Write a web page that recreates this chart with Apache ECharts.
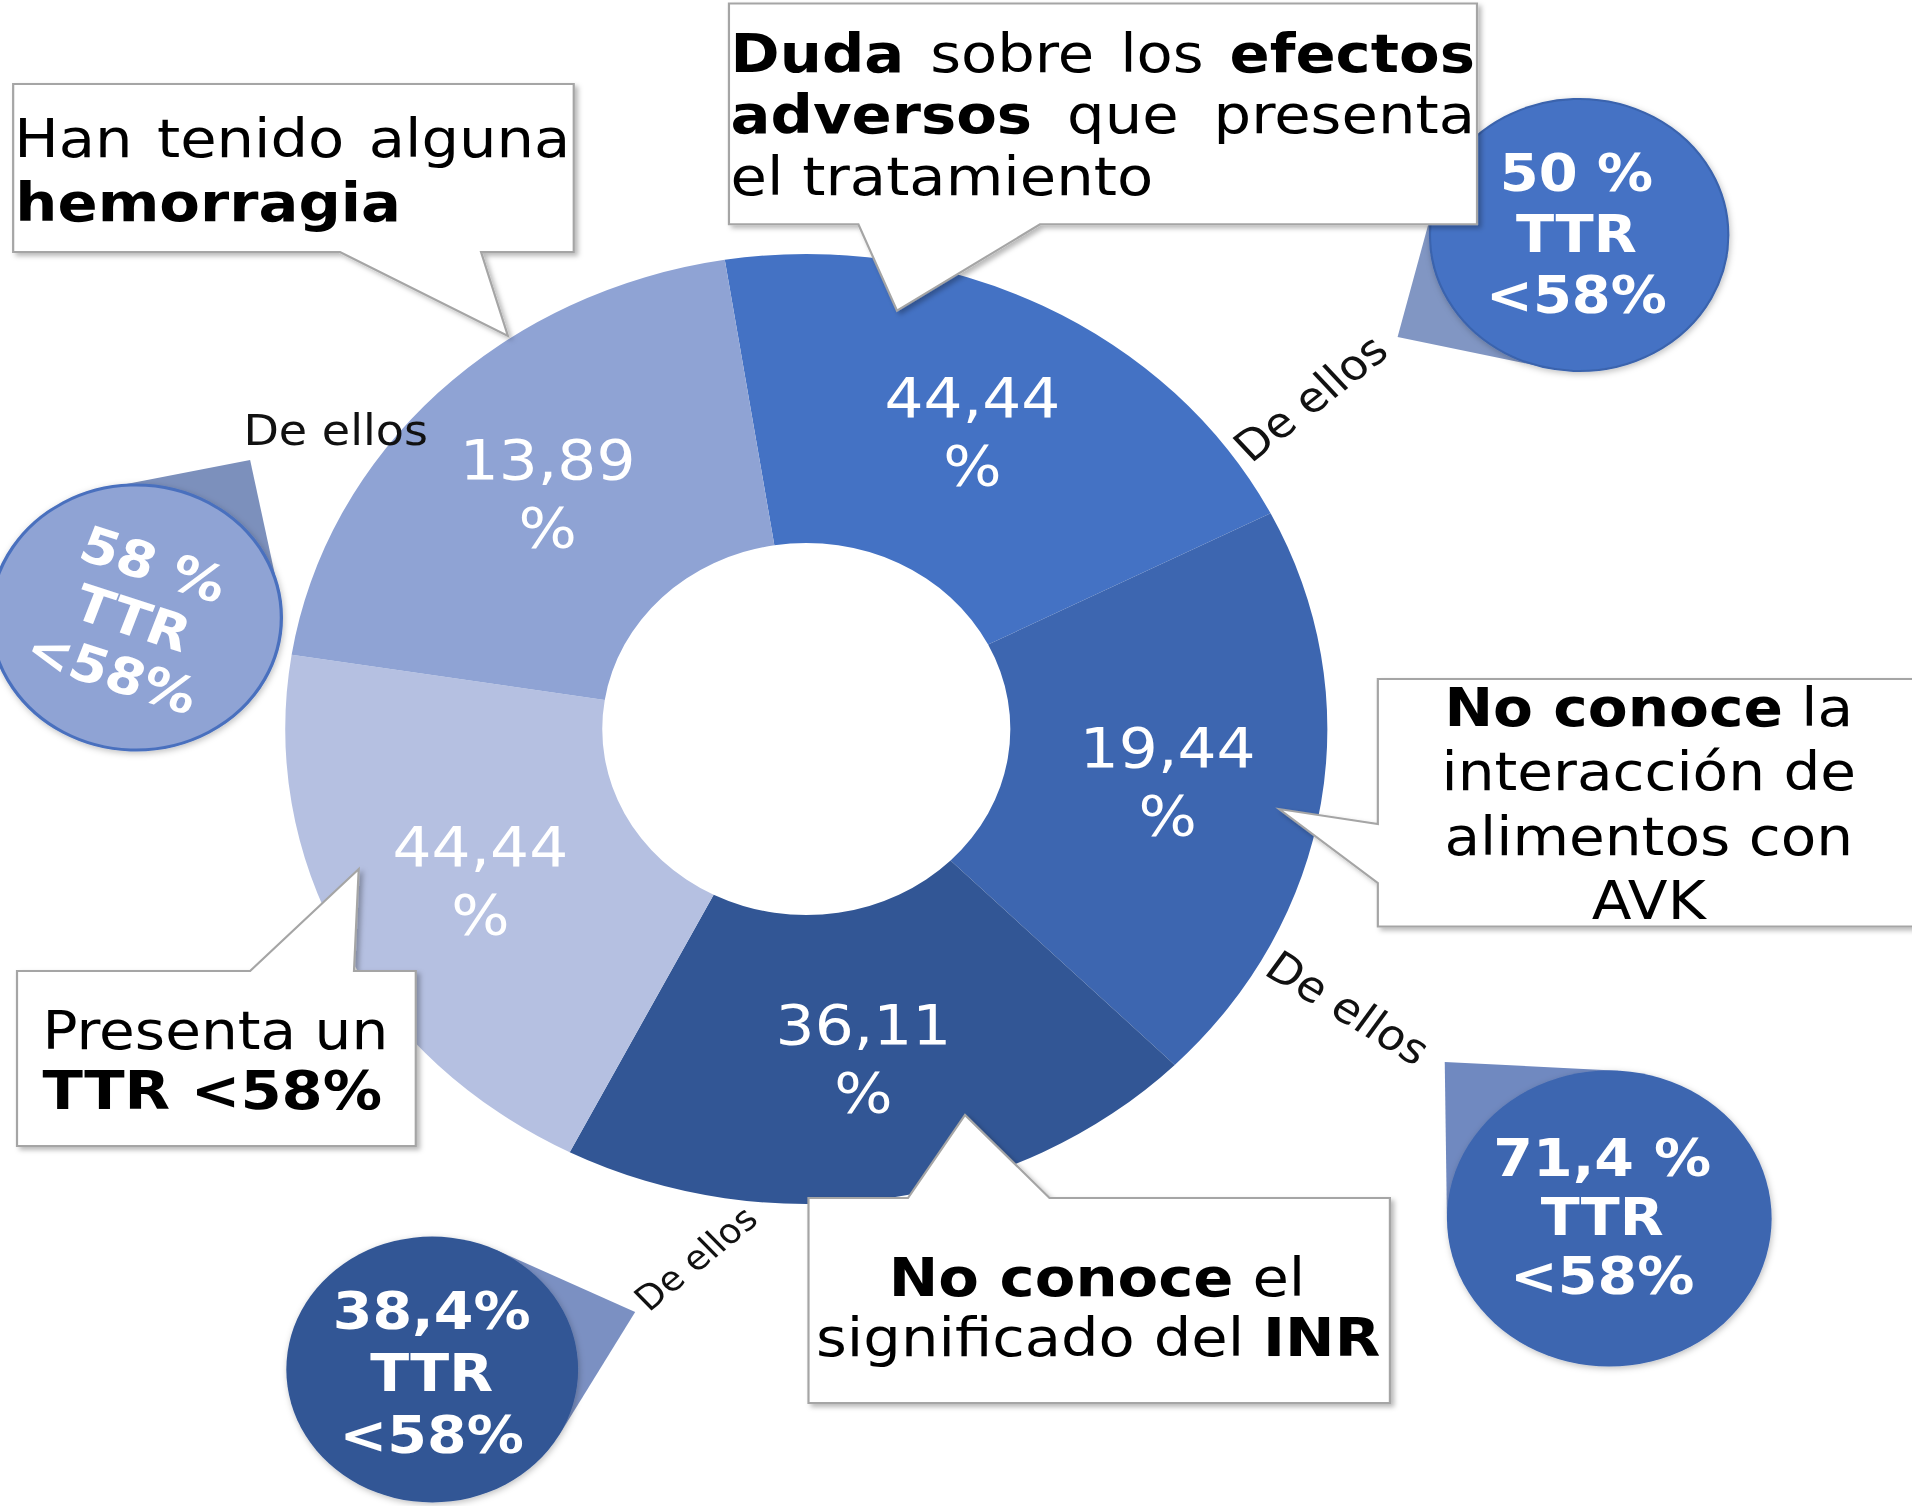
<!DOCTYPE html>
<html><head><meta charset="utf-8">
<script src="https://cdn.jsdelivr.net/npm/echarts@6/dist/echarts.min.js"></script>
<style>
html,body{margin:0;padding:0;background:#fff;overflow:hidden;}
#chart{width:1743px;height:1506px;transform:scaleX(1.097);transform-origin:0 0;}
</style></head><body><div id="chart"></div>
<script>
// ---- data ----
const categories = [
  'Duda sobre los efectos adversos que presenta el tratamiento',
  'No conoce la interacción de alimentos con AVK',
  'No conoce el significado del INR',
  'Presenta un TTR <58%',
  'Han tenido alguna hemorragia'
];
const percentages = [44.44, 19.44, 36.11, 44.44, 13.89];
const sliceWeights = [1, 1, 1, 1, 1];           // slices drawn equal in the original
const ttrShares = ['50 %', '71,4 %', '38,4%', '58 %'];  // "De ellos" sub-groups
const ttrLines = ['TTR', '<58%'];
const deEllos = 'De ellos';

// ---- styles ----
const sliceColors = ['#4472C4', '#3D66B0', '#325695', '#B5C0E1', '#8FA3D4'];
const FONT = '"DejaVu Sans", Verdana, sans-serif';

const cv = document.createElement('canvas').getContext('2d');
function tw(t, size, bold) { cv.font = (bold ? 'bold ' : '') + size + 'px "DejaVu Sans"'; return cv.measureText(t).width; }
function txt(x, y, text, size, bold, align, extra) {
  return Object.assign({ type: 'text', x: x, y: y, z: 40, silent: true,
    style: Object.assign({ text: text, fontSize: size, fontFamily: FONT, fontWeight: bold ? 'bold' : 'normal',
      fill: '#000', align: align || 'left', verticalAlign: 'middle' }, extra || {}) }, {});
}
function justified(words, x0, x1, y, size) {
  const ws = words.map(w => tw(w[0], size, w[1]));
  const total = ws.reduce((a, b) => a + b, 0);
  const gap = (x1 - x0 - total) / (words.length - 1);
  let x = x0; const out = [];
  words.forEach((w, i) => { out.push(txt(x, y, w[0], size, w[1])); x += ws[i] + gap; });
  return out;
}
function richCenter(x, y, text, size) {
  return txt(x, y, text, size, false, 'center', { rich: { b: { fontWeight: 'bold', fontSize: size, fontFamily: FONT, fill: '#000' } } });
}
function callout(points) {
  return { type: 'polygon', z: 30, silent: true, shape: { points: points },
    style: { fill: '#fff', stroke: '#A5A5A5', lineWidth: 2, shadowBlur: 5, shadowOffsetX: 3, shadowOffsetY: 3, shadowColor: 'rgba(0,0,0,0.28)' } };
}
function bubble(cx, cy, r, fill, tip, tailColor, stroke, strokeW) {
  const dx = tip[0] - cx, dy = tip[1] - cy, d = Math.hypot(dx, dy);
  const a = Math.atan2(dy, dx), b = Math.acos(r / d);
  const t1 = [cx + r * Math.cos(a + b), cy + r * Math.sin(a + b)];
  const t2 = [cx + r * Math.cos(a - b), cy + r * Math.sin(a - b)];
  return [
    { type: 'polygon', z: 20, silent: true, shape: { points: [tip, t1, [cx, cy], t2] }, style: { fill: tailColor } },
    { type: 'circle', z: 21, silent: true, shape: { cx: cx, cy: cy, r: r },
      style: { fill: fill, stroke: stroke || null, lineWidth: strokeW || 0, shadowBlur: 6, shadowColor: 'rgba(0,0,0,0.25)', shadowOffsetX: 1, shadowOffsetY: 2 } }
  ];
}
function bubbleText(x, y, first, size, lh, rot) {
  const t = txt(x, y, [first].concat(ttrLines).join('\n'), size, true, 'center', { fill: '#fff', lineHeight: lh });
  t.z = 22;
  if (rot) t.rotation = rot;
  return t;
}
function deEllosText(x, y, size, rot) {
  const t = txt(x, y, deEllos, size, false, 'center', { fill: '#111' });
  t.rotation = rot; return t;
}

const elements = [];
// tails, bubbles
elements.push(...bubble(1439.5, 235, 136, '#4472C4', [1274, 337], '#8196C3', '#3A63AD', 2));
elements.push(...bubble(1467, 1218.5, 148, '#3D66B0', [1317, 1062], '#7089C0'));
elements.push(...bubble(394, 1369.5, 133, '#325695', [579, 1312], '#7B90C2'));
elements.push(...bubble(124, 617.5, 132.5, '#8FA3D4', [228, 460], '#7C90BC', '#4A70BE', 3));
elements.push(bubbleText(1437, 234, ttrShares[0], 51, 61));
elements.push(bubbleText(1460.5, 1217, ttrShares[1], 52, 59));
elements.push(bubbleText(393.5, 1373, ttrShares[2], 52, 62));
elements.push(bubbleText(121, 618, ttrShares[3], 50, 57, -0.34));
// De ellos
elements.push(deEllosText(306, 430.5, 42, 0));
elements.push(deEllosText(1194.6, 398, 42, 0.71));
elements.push(deEllosText(1228.8, 1008, 42, -0.588));
elements.push(deEllosText(634.2, 1258.3, 34, 0.731));

// callouts
elements.push(callout([[12, 84], [523, 84], [523, 252], [438.5, 252], [463, 336], [310, 252], [12, 252]]));
elements.push(...justified([['Han', 0], ['tenido', 0], ['alguna', 0]], 13, 520, 137.5, 54));
elements.push(txt(14, 202, 'hemorragia', 54, true));

elements.push(callout([[664.5, 3.6], [1346.4, 3.6], [1346.4, 224.3], [948, 224.3], [817.7, 310.7], [782.5, 224.3], [664.5, 224.3]]));
elements.push(...justified([['Duda', 1], ['sobre', 0], ['los', 0], ['efectos', 1]], 666, 1344.6, 52.7, 54));
elements.push(...justified([['adversos', 1], ['que', 0], ['presenta', 0]], 666, 1344.6, 114, 54));
elements.push(txt(666, 176, 'el tratamiento', 54, false));

elements.push(callout([[1256, 679], [1750, 679], [1750, 926.5], [1256, 926.5], [1256, 883], [1166, 809], [1256, 824]]));
elements.push(richCenter(1503, 707, '{b|No conoce} la', 53));
elements.push(richCenter(1503, 771.5, 'interacción de', 53));
elements.push(richCenter(1503, 836, 'alimentos con', 53));
elements.push(richCenter(1503, 900.5, 'AVK', 53));

elements.push(callout([[737, 1198], [827.7, 1198], [879.7, 1115], [956.7, 1198], [1267, 1198], [1267, 1403], [737, 1403]]));
elements.push(richCenter(1000, 1277, '{b|No conoce} el', 54));
elements.push(richCenter(1001, 1337, 'significado del {b|INR}', 54));

elements.push(callout([[15.5, 971], [228, 971], [327, 869], [322.7, 971], [379, 971], [379, 1146], [15.5, 1146]]));
elements.push(txt(38.7, 1030, 'Presenta un', 53, false));
elements.push(txt(38.7, 1090, 'TTR <58%', 54, true));

const chart = echarts.init(document.getElementById('chart'), null, { renderer: 'svg' });
chart.setOption({
  animation: false,
  backgroundColor: '#fff',
  series: [{
    type: 'pie',
    silent: true,
    center: [735, 729],
    radius: [186, 475],
    startAngle: 99,
    clockwise: true,
    avoidLabelOverlap: false,
    itemStyle: { borderWidth: 0 },
    label: {
      show: true, position: 'inside', color: '#fff', fontFamily: FONT, fontSize: 56, lineHeight: 68,
      formatter: p => percentages[p.dataIndex].toFixed(2).replace('.', ',') + '\n%'
    },
    labelLine: { show: false },
    data: categories.map((c, i) => ({ name: c, value: sliceWeights[i], itemStyle: { color: sliceColors[i] } }))
  }],
  graphic: { elements: elements }
});
</script></body></html>
